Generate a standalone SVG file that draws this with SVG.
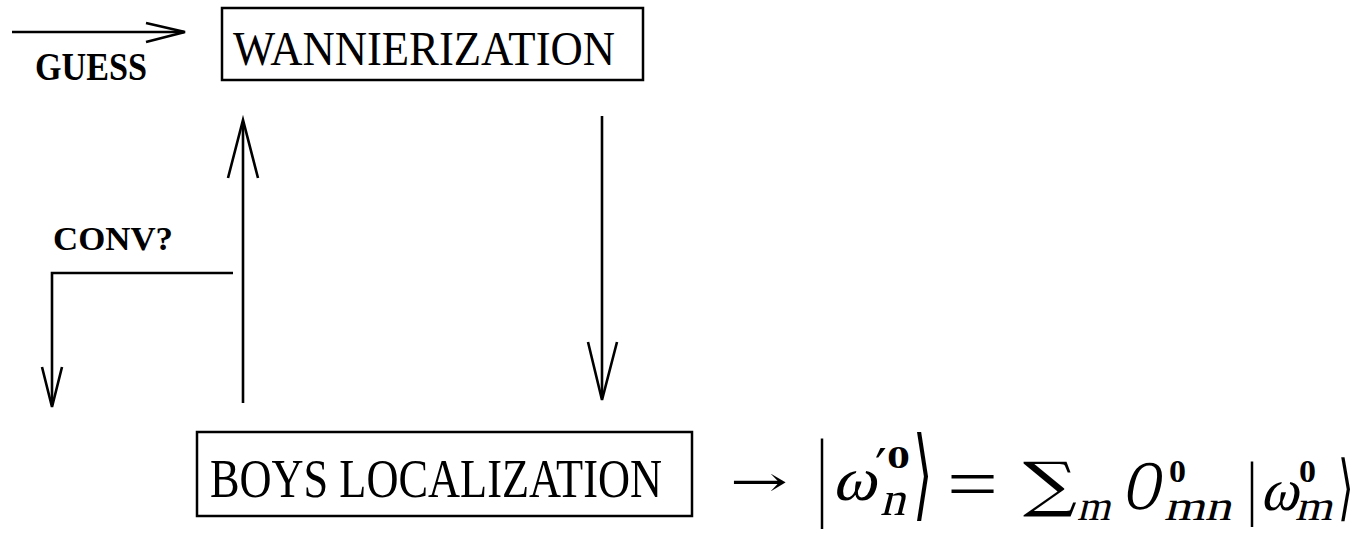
<svg xmlns="http://www.w3.org/2000/svg" width="1365" height="533" viewBox="0 0 1365 533">
<style>
.box{fill:none;stroke:#000;stroke-width:2.5}
.ln{fill:none;stroke:#000;stroke-width:2.6;stroke-linejoin:miter}
.tm{font-family:"Liberation Serif","Times New Roman",serif;fill:#000}
.bd{font-family:"Liberation Serif","Times New Roman",serif;font-weight:bold;fill:#000}
.sy{font-family:"DejaVu Serif",serif;fill:#000}
.mb{font-family:"Liberation Serif",serif;font-weight:bold;fill:#000}
</style>
<rect width="1365" height="533" fill="#fff"/>
<g id="connectors">
<line class="ln" x1="12" y1="32" x2="184" y2="32"/>
<polyline class="ln" points="146,23 185,32 146,42"/>
<line class="ln" x1="243" y1="403" x2="243" y2="122"/>
<polyline class="ln" points="228,178 243,120 258,178"/>
<line class="ln" x1="602" y1="116" x2="602" y2="398"/>
<polyline class="ln" points="588,342 602,400 617,342"/>
<polyline class="ln" points="233,273 52,273 52,405"/>
<polyline class="ln" points="42,367 52,407 62,367"/>
</g>
<g id="guess"><text class="bd" transform="translate(35,80) scale(1,1.08)" font-size="37" textLength="112" lengthAdjust="spacingAndGlyphs">GUESS</text></g>
<g id="wannierization">
<rect class="box" x="222" y="8" width="421" height="72"/>
<text class="tm" transform="translate(233,65) scale(1,1.1)" font-size="44" textLength="382" lengthAdjust="spacingAndGlyphs">WANNIERIZATION</text>
</g>
<g id="conv"><text class="bd" transform="translate(53,250) scale(1,1.05)" font-size="33" textLength="120" lengthAdjust="spacingAndGlyphs">CONV?</text></g>
<g id="boys">
<rect class="box" x="197" y="432" width="495" height="84"/>
<text class="tm" transform="translate(210,497) scale(1,1.25)" font-size="44" textLength="452" lengthAdjust="spacingAndGlyphs">BOYS LOCALIZATION</text>
</g>
<g id="formula">
<text class="sy" transform="translate(730,496) scale(1,0.7)" font-size="60" textLength="58" lengthAdjust="spacingAndGlyphs">→</text>
<text class="tm" transform="translate(822,508) scale(0.5,1)" font-size="100" text-anchor="middle">|</text>
<text class="tm" transform="translate(832,500) skewX(-14)" font-size="62" textLength="44" lengthAdjust="spacingAndGlyphs">ω</text>
<text class="sy" x="875" y="486" font-size="52">′</text>
<text class="mb" x="887" y="468" font-size="32" textLength="23" lengthAdjust="spacingAndGlyphs">0</text>
<text class="tm" transform="translate(880,515) skewX(-14)" font-size="48" textLength="25" lengthAdjust="spacingAndGlyphs">n</text>
<text class="sy" transform="translate(913,508) scale(0.5,1)" font-size="100">⟩</text>
<text class="tm" x="947" y="508" font-size="72" textLength="51" lengthAdjust="spacingAndGlyphs">=</text>
<text class="sy" x="1023" y="505" font-size="60" textLength="54" lengthAdjust="spacingAndGlyphs">∑</text>
<text class="tm" transform="translate(1077,520) skewX(-14)" font-size="42" textLength="33" lengthAdjust="spacingAndGlyphs">m</text>
<text class="tm" transform="translate(1122,509) skewX(-12)" font-size="70" textLength="36" lengthAdjust="spacingAndGlyphs">O</text>
<text class="mb" x="1169" y="482" font-size="31" textLength="17" lengthAdjust="spacingAndGlyphs">0</text>
<text class="tm" transform="translate(1164,520) skewX(-14)" font-size="42" textLength="67" lengthAdjust="spacingAndGlyphs">mn</text>
<text class="tm" transform="translate(1252,512) scale(0.5,0.72)" font-size="100" text-anchor="middle">|</text>
<text class="tm" transform="translate(1260,510) skewX(-14)" font-size="60" textLength="38" lengthAdjust="spacingAndGlyphs">ω</text>
<text class="mb" x="1299" y="482" font-size="31" textLength="17" lengthAdjust="spacingAndGlyphs">0</text>
<text class="tm" transform="translate(1295,520) skewX(-14)" font-size="42" textLength="37" lengthAdjust="spacingAndGlyphs">m</text>
<text class="sy" transform="translate(1338,512) scale(0.4,0.72)" font-size="100">⟩</text>
</g>
</svg>
